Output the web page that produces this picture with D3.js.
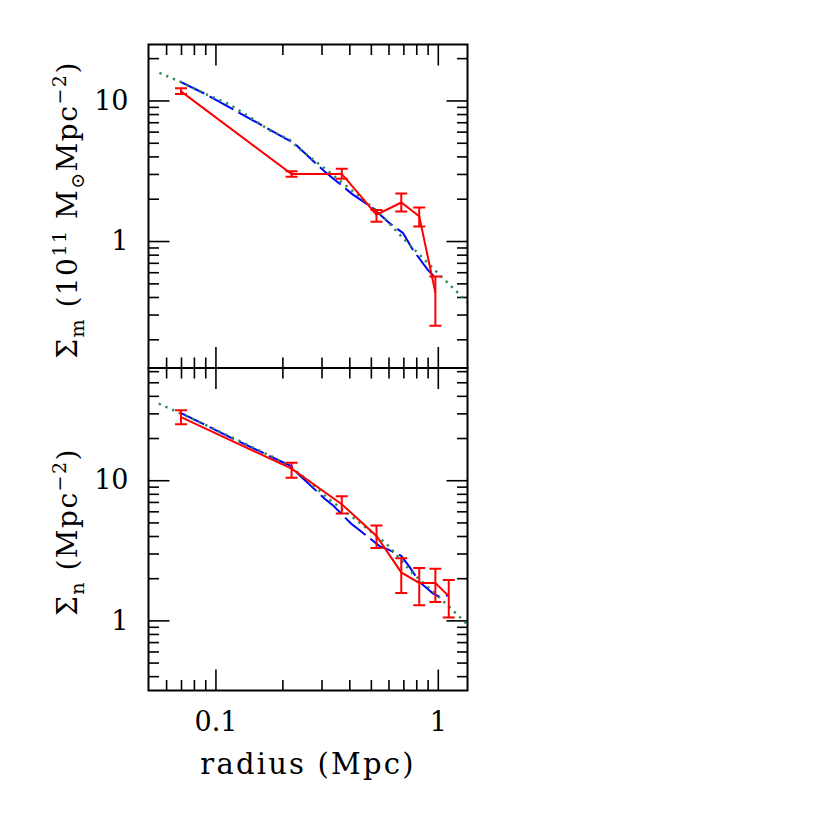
<!DOCTYPE html>
<html>
<head>
<meta charset="utf-8">
<script src="https://cdn.jsdelivr.net/npm/d3@7"></script>
<style>
  html, body { margin: 0; padding: 0; background: #fff; }
  svg { display: block; }
  text { font-family: "DejaVu Serif", serif; fill: #000; }
</style>
</head>
<body>
<svg id="chart" width="830" height="830"></svg>
<script>
// ---------- data ----------
// Top panel: projected mass density (10^11 Msun Mpc^-2)
const massRadius = [0.07, 0.22, 0.37, 0.53, 0.685, 0.825, 0.975];
const massValue  = [11.6, 3.0, 3.0, 1.54, 1.88, 1.5, 0.43];
const massLow    = [11.1, 2.87, 2.77, 1.37, 1.62, 1.27, 0.25];
const massHigh   = [12.2, 3.13, 3.27, 1.66, 2.18, 1.73, 0.56];

const massModelX = [0.0693, 0.0892, 0.124, 0.169, 0.205, 0.225, 0.309, 0.337, 0.415, 0.51, 0.607, 0.697, 0.772, 0.902, 0.976];
const massModelY = [13.6, 11.2, 8.4, 6.4, 5.4, 5.0, 3.13, 2.8, 2.14, 1.72, 1.34, 1.14, 0.867, 0.624, 0.545];

const massFitX = [0.056, 0.0701, 0.0893, 0.1156, 0.142, 0.175, 0.215, 0.243, 0.315, 0.415, 0.547, 0.721, 0.856, 1.036, 1.36];
const massFitY = [15.7, 13.5, 11.2, 9.37, 7.66, 6.14, 5.27, 4.42, 3.22, 2.26, 1.58, 0.993, 0.757, 0.56, 0.367];

// Bottom panel: projected number density (Mpc^-2)
const numRadius = [0.07, 0.22, 0.37, 0.53, 0.685, 0.825, 0.975, 1.12];
const numValue  = [28.2, 12.1, 6.74, 4.0, 2.2, 1.85, 1.85, 1.49];
const numLow    = [25.1, 10.4, 5.8, 3.29, 1.57, 1.28, 1.35, 1.05];
const numHigh   = [31.6, 13.3, 7.7, 4.75, 2.78, 2.36, 2.34, 1.94];

const numModelX = [0.0693, 0.124, 0.19, 0.219, 0.239, 0.309, 0.337, 0.407, 0.547, 0.607, 0.684, 0.746, 0.827, 0.95, 1.018, 1.109];
const numModelY = [30.4, 19.3, 14.0, 12.6, 10.85, 7.41, 6.64, 4.91, 3.39, 3.17, 2.89, 2.41, 1.88, 1.56, 1.47, 1.51];

const numFitX = [0.0556, 0.0908, 0.181, 0.2387, 0.315, 0.43, 0.586, 0.772, 0.984, 1.168, 1.36];
const numFitY = [35.2, 24.7, 14.66, 11.2, 7.6, 5.19, 3.54, 2.16, 1.53, 1.18, 0.932];

// ticks
const xMajor = [0.1, 1];
const xMinor = [0.06, 0.07, 0.08, 0.09, 0.2, 0.3, 0.4, 0.5, 0.6, 0.7, 0.8, 0.9];
const xTickLabels = ["0.1", "1"];
const yMajor = [1, 10];
const yTickLabels = ["1", "10"];
const topMinor = [0.2, 0.3, 0.4, 0.5, 0.6, 0.7, 0.8, 0.9, 2, 3, 4, 5, 6, 7, 8, 9, 20];
const botMinor = [0.4, 0.5, 0.6, 0.7, 0.8, 0.9, 2, 3, 4, 5, 6, 7, 8, 9, 20, 30, 40, 50, 60];

// ---------- layout ----------
const svg = d3.select("#chart");
const L = 148.5, R = 467.5, T = 44.5, MID = 368, B = 690.5;
const MAJ = 21, MIN = 10.5, FS = 27;

const x = d3.scaleLog().domain([0.05, 1.36]).range([L, R]);
const yTop = d3.scaleLog().domain([0.125, 25]).range([MID, T]);
const yBot = d3.scaleLog().domain([0.316, 63.2]).range([B, MID]);

const panels = [
  {y: yTop, top: T, bottom: MID, minor: topMinor, id: "t",
   rx: massRadius, rv: massValue, rl: massLow, rh: massHigh,
   mx: massModelX, my: massModelY, fx: massFitX, fy: massFitY, xlabels: false},
  {y: yBot, top: MID, bottom: B, minor: botMinor, id: "b",
   rx: numRadius, rv: numValue, rl: numLow, rh: numHigh,
   mx: numModelX, my: numModelY, fx: numFitX, fy: numFitY, xlabels: true}
];

const defs = svg.append("defs");

function styleAxis(g) {
  g.select(".domain").remove();
  g.selectAll(".tick line").attr("stroke", "#000").attr("stroke-width", 1.6);
  g.selectAll(".tick text").attr("font-size", FS).attr("font-family", "DejaVu Serif, serif").attr("fill", "#000");
}

panels.forEach(p => {
  const g = svg.append("g");
  defs.append("clipPath").attr("id", "clip" + p.id)
    .append("rect").attr("x", L).attr("y", p.top).attr("width", R - L).attr("height", p.bottom - p.top);

  // ticks: bottom edge
  g.append("g").attr("transform", `translate(0,${p.bottom})`)
    .call(d3.axisBottom(x).tickValues(xMinor).tickSize(-MIN).tickFormat(""))
    .call(styleAxis);
  g.append("g").attr("transform", `translate(0,${p.bottom})`)
    .call(d3.axisBottom(x).tickValues(xMajor).tickSize(-MAJ).tickPadding(21)
      .tickFormat((d, i) => p.xlabels ? xTickLabels[i] : ""))
    .call(styleAxis);
  // ticks: top edge
  g.append("g").attr("transform", `translate(0,${p.top})`)
    .call(d3.axisTop(x).tickValues(xMinor).tickSize(-MIN).tickFormat(""))
    .call(styleAxis);
  g.append("g").attr("transform", `translate(0,${p.top})`)
    .call(d3.axisTop(x).tickValues(xMajor).tickSize(-MAJ).tickFormat(""))
    .call(styleAxis);
  // ticks: left edge
  g.append("g").attr("transform", `translate(${L},0)`)
    .call(d3.axisLeft(p.y).tickValues(p.minor).tickSize(-MIN).tickFormat(""))
    .call(styleAxis);
  g.append("g").attr("transform", `translate(${L},0)`)
    .call(d3.axisLeft(p.y).tickValues(yMajor).tickSize(-MAJ).tickPadding(20)
      .tickFormat((d, i) => yTickLabels[i]))
    .call(styleAxis);
  // ticks: right edge
  g.append("g").attr("transform", `translate(${R},0)`)
    .call(d3.axisRight(p.y).tickValues(p.minor).tickSize(-MIN).tickFormat(""))
    .call(styleAxis);
  g.append("g").attr("transform", `translate(${R},0)`)
    .call(d3.axisRight(p.y).tickValues(yMajor).tickSize(-MAJ).tickFormat(""))
    .call(styleAxis);

  const plot = g.append("g").attr("clip-path", `url(#clip${p.id})`);
  const lineGen = d3.line().x(d => x(d[0])).y(d => p.y(d[1]));

  // dashed model (blue)
  plot.append("path")
    .attr("d", lineGen(p.mx.map((v, i) => [v, p.my[i]])))
    .attr("fill", "none").attr("stroke", "#0000ff").attr("stroke-width", 2)
    .attr("stroke-dasharray", "27,6");

  // dotted fit (green), drawn over the blue
  plot.append("path")
    .attr("d", lineGen(p.fx.map((v, i) => [v, p.fy[i]])))
    .attr("fill", "none").attr("stroke", "#2e8b57").attr("stroke-width", 2.5)
    .attr("stroke-dasharray", "2.3,5");

  // data (red)
  plot.append("path")
    .attr("d", lineGen(p.rx.map((v, i) => [v, p.rv[i]])))
    .attr("fill", "none").attr("stroke", "#ff0000").attr("stroke-width", 2);

  const eb = plot.append("g").attr("stroke", "#ff0000").attr("stroke-width", 2);
  p.rx.forEach((r, i) => {
    const cx = x(r);
    eb.append("line").attr("x1", cx).attr("x2", cx).attr("y1", p.y(p.rl[i])).attr("y2", p.y(p.rh[i]));
    eb.append("line").attr("x1", cx - 6).attr("x2", cx + 6).attr("y1", p.y(p.rl[i])).attr("y2", p.y(p.rl[i]));
    eb.append("line").attr("x1", cx - 6).attr("x2", cx + 6).attr("y1", p.y(p.rh[i])).attr("y2", p.y(p.rh[i]));
  });

  // frame
  g.append("rect").attr("x", L).attr("y", p.top).attr("width", R - L).attr("height", p.bottom - p.top)
    .attr("fill", "none").attr("stroke", "#000").attr("stroke-width", 2);
});

// x axis title
svg.append("text").attr("x", (x(0.05) + x(1.36)) / 2).attr("y", 774)
  .attr("text-anchor", "middle").attr("font-size", 29).attr("letter-spacing", 2.2)
  .text("radius (Mpc)");

// y axis titles
const SUBS = 19;
const t1 = svg.append("text").attr("transform", "translate(77,210) rotate(-90)")
  .attr("text-anchor", "middle").attr("font-size", 28).attr("letter-spacing", 1.5);
t1.append("tspan").text("Σ");
t1.append("tspan").attr("dy", 7).attr("font-size", SUBS).text("m");
t1.append("tspan").attr("dy", -7).text("  (10");
t1.append("tspan").attr("dy", -11).attr("font-size", SUBS).text("11");
t1.append("tspan").attr("dy", 11).text(" M");
t1.append("tspan").attr("dy", 7).attr("font-size", SUBS).text("⊙");
t1.append("tspan").attr("dy", -7).text("Mpc");
t1.append("tspan").attr("dy", -11).attr("font-size", SUBS).text("−2");
t1.append("tspan").attr("dy", 11).text(")");

const t2 = svg.append("text").attr("transform", "translate(77,532) rotate(-90)")
  .attr("text-anchor", "middle").attr("font-size", 28).attr("letter-spacing", 1.5);
t2.append("tspan").text("Σ");
t2.append("tspan").attr("dy", 7).attr("font-size", SUBS).text("n");
t2.append("tspan").attr("dy", -7).text("  (Mpc");
t2.append("tspan").attr("dy", -11).attr("font-size", SUBS).text("−2");
t2.append("tspan").attr("dy", 11).text(")");
</script>
</body>
</html>
